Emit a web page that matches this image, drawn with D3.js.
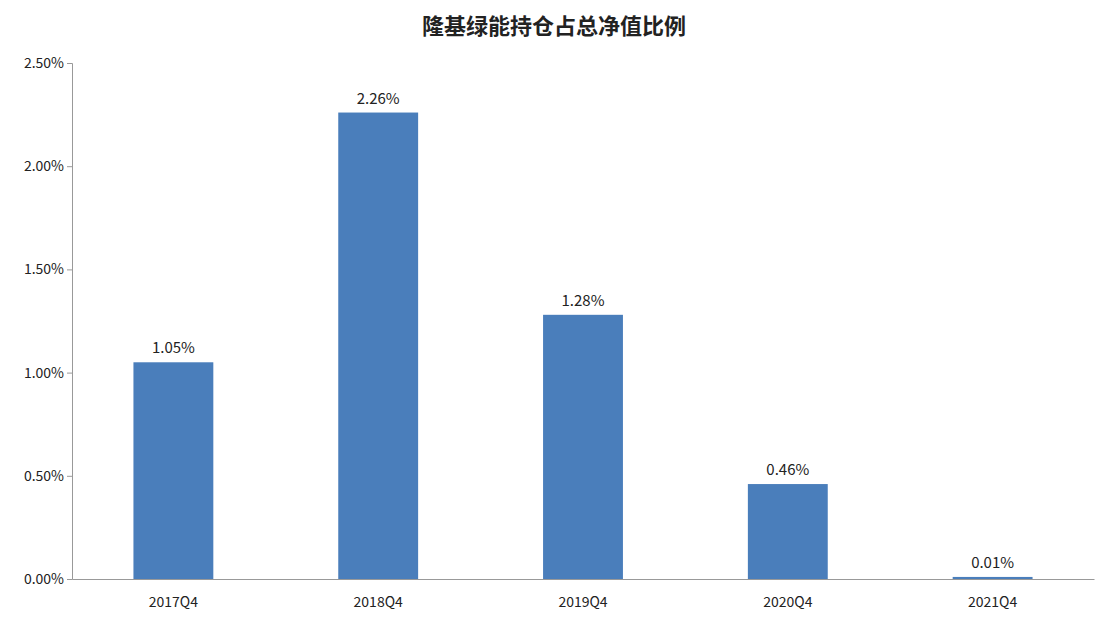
<!DOCTYPE html>
<html><head><meta charset="utf-8">
<script src="https://cdn.jsdelivr.net/npm/d3@7"></script>
<style>body{margin:0;background:#fff}text{font-family:"Noto Sans CJK SC","DejaVu Sans",sans-serif}</style>
</head><body><div id="container"></div>
<script>
const categories = ["2017Q4","2018Q4","2019Q4","2020Q4","2021Q4"];
const values = [1.05, 2.26, 1.28, 0.46, 0.01];
const yTicks = [0, 0.5, 1, 1.5, 2, 2.5];
const title = "隆基绿能持仓占总净值比例";

const width = 1108, height = 624,
  margin = { top: 63, bottom: 45, left: 72, right: 14 };

const svg = d3.select("#container").append("svg")
  .attr("width", width).attr("height", height);

const x = d3.scaleBand().domain(categories)
  .range([margin.left, width - margin.right]).paddingInner(0.61).paddingOuter(0.3);
const y = d3.scaleLinear().domain([0, 2.5])
  .range([height - margin.bottom, margin.top]);

svg.append("text").attr("x", 554).attr("y", 34).attr("text-anchor", "middle")
  .attr("font-size", 22).attr("font-weight", "bold").attr("fill", "#222").text(title);

// bars
svg.selectAll("rect.bar").data(values).join("rect")
  .attr("x", (d, i) => x(categories[i])).attr("width", x.bandwidth())
  .attr("y", d => y(d)).attr("height", d => y(0) - y(d))
  .attr("fill", "#4a7ebb");

svg.selectAll("text.lbl").data(values).join("text")
  .attr("x", (d, i) => x(categories[i]) + x.bandwidth() / 2)
  .attr("y", d => y(d) - 9).attr("text-anchor", "middle")
  .attr("font-size", 15).attr("fill", "#222").text(d => d.toFixed(2) + "%");

// axes
const yAxis = d3.axisLeft(y).tickValues(yTicks).tickSize(5)
  .tickFormat(d => d.toFixed(2) + "%");
const yg = svg.append("g").attr("transform", `translate(${margin.left},0)`).call(yAxis);
yg.selectAll("path,line").attr("stroke", "#999");
yg.selectAll("text").attr("font-size", 14).attr("fill", "#222");

const xAxis = d3.axisBottom(x).tickSize(0).tickPadding(18);
const xg = svg.append("g").attr("transform", `translate(0,${y(0)})`).call(xAxis);
xg.select("path").attr("stroke", "#999");
xg.selectAll("text").attr("font-size", 14).attr("fill", "#222");
</script></body></html>
